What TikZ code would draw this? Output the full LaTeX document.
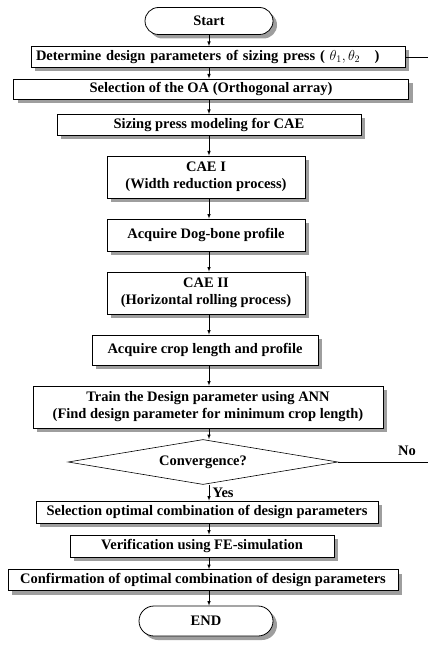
\documentclass[tikz,border=0pt]{standalone}
\usepackage{fontspec}
\setmainfont{Liberation Serif}
\usetikzlibrary{positioning,arrows,shapes,shadows}

\begin{document}
\begin{tikzpicture}[x=1pt,y=-1pt,
                >=latex,
                txt/.style={font=\bfseries\fontsize{14.5}{17}\selectfont},
                shd/.style={drop shadow={shadow xshift=4pt,shadow yshift=-4pt,fill=black!38,opacity=1}},
                blk/.style={txt,draw,fill=white,line width=0.8pt,inner sep=1pt,align=center,shd},
                term/.style={txt,draw,fill=white,line width=0.8pt,rounded rectangle,inner sep=2pt,shd},
                dec/.style={txt,draw,fill=white,line width=0.6pt,diamond,aspect=6,inner sep=0pt},
                arr/.style={->,line width=0.6pt}
            ]
                \useasboundingbox (0,0) rectangle (428,663);

                \node[term,minimum width=132,minimum height=27] (start) at (209,21) {Start};
                \node[blk,minimum height=21,text width=364,inner xsep=5pt,align=left] (dp) at (218,57)
                    {Determine design parameters of sizing press ( $\theta_1,\theta_2$\quad)};
                \node[blk,minimum width=395,minimum height=20] (oa)   at (211,89)  {Selection of the OA (Orthogonal array)};
                \node[blk,minimum width=304,minimum height=21] (mdl)  at (209,125) {Sizing press modeling for CAE};
                \node[blk,minimum width=198,minimum height=42] (cae1) at (206,177) {CAE I\\(Width reduction process)};
                \node[blk,minimum width=198,minimum height=32] (dog)  at (206,235) {Acquire Dog-bone profile};
                \node[blk,minimum width=198,minimum height=42] (cae2) at (206,293) {CAE II\\(Horizontal rolling process)};
                \node[blk,minimum width=226,minimum height=30] (crop) at (205,350) {Acquire crop length and profile};
                \node[blk,minimum width=350,minimum height=42] (ann)  at (208,407)
                    {Train the Design parameter using ANN\\(Find design parameter for minimum crop length)};
                \node[dec,minimum width=270,minimum height=45] (conv) at (203,462) {Convergence?};
                \node[blk,minimum width=342,minimum height=22] (opt)  at (207,512) {Selection optimal combination of design parameters};
                \node[blk,minimum width=264,minimum height=22] (ver)  at (202,546) {Verification using FE-simulation};
                \node[blk,minimum width=390,minimum height=21] (conf) at (203,580) {Confirmation of optimal combination of design parameters};
                \node[term,minimum width=138,minimum height=30] (end) at (206,621) {END};

                \coordinate (fbtop) at (428,57);
                \coordinate (fbno)  at (428,462);
                \node[txt] (no) at (407,451) {No};

                \begin{scope}[arr]
                    \draw (start.south) -- (start.south |- dp.north);
                    \draw (start.south |- dp.south) -- (start.south |- oa.north);
                    \draw (start.south |- oa.south) -- (start.south |- mdl.north);
                    \draw (start.south |- mdl.south) -- (start.south |- cae1.north);
                    \draw (start.south |- cae1.south) -- (start.south |- dog.north);
                    \draw (start.south |- dog.south) -- (start.south |- cae2.north);
                    \draw (start.south |- cae2.south) -- (start.south |- crop.north);
                    \draw (start.south |- crop.south) -- (start.south |- ann.north);
                    \draw (start.south |- ann.south) -- (start.south |- conv.north);
                    \draw (start.south |- conv.south) -- (start.south |- opt.north) node[txt,midway,right] {Yes};
                    \draw (start.south |- opt.south) -- (start.south |- ver.north);
                    \draw (start.south |- ver.south) -- (start.south |- conf.north);
                    \draw (start.south |- conf.south) -- (start.south |- end.north);
                \end{scope}
                \draw[line width=0.6pt] (dp.east) -- (fbtop);
                \draw[line width=0.6pt] (conv.east) -- (fbno);
            \end{tikzpicture}
\end{document}
